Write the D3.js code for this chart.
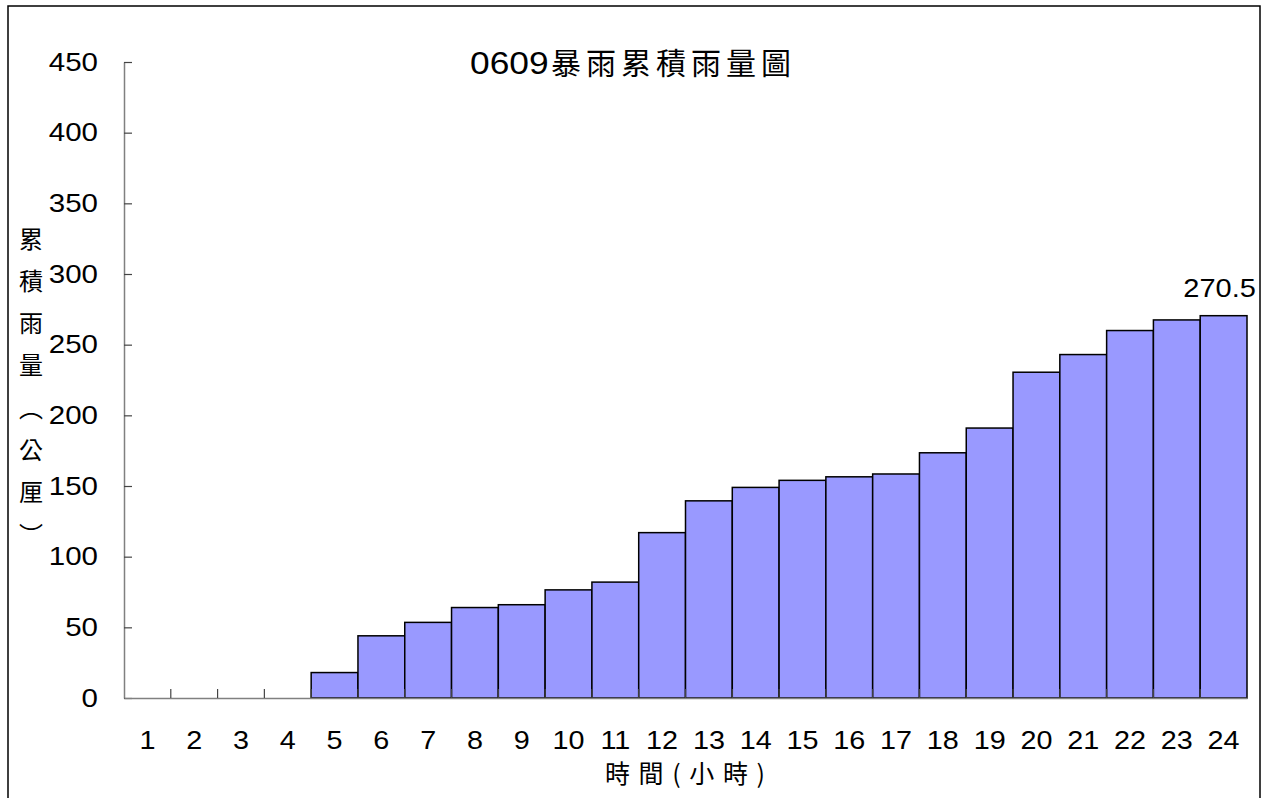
<!DOCTYPE html>
<html><head><meta charset="utf-8">
<script src="https://cdn.jsdelivr.net/npm/d3@7"></script>
<style>
body{margin:0;background:#fff;}
svg{display:block;}
</style></head>
<body>
<svg id="chart" width="1263" height="798"></svg>
<script>
const categories = ["1","2","3","4","5","6","7","8","9","10","11","12","13","14","15","16","17","18","19","20","21","22","23","24"];
const values = [0,0,0,0,18,44,53.5,64,66,76.5,82,117,139.5,149,154,156.5,158.5,173.5,191,230.5,243,260,267.5,270.5];
const yTicks = [0,50,100,150,200,250,300,350,400,450];
const titleNum = "0609";
const titleText = "暴雨累積雨量圖";
const yLabelChars = ["累","積","雨","量","︵","公","厘","︶"];
const xLabel = "時間(小時)";
const lastLabel = "270.5";

(function(){
const svg = d3.select("#chart");
const latin = "Arial, 'Liberation Sans', sans-serif";
const cjk = "'Noto Sans CJK TC', 'Noto Sans CJK SC', sans-serif";
function stretch(sel, f){
  sel.each(function(){
    const w = this.getComputedTextLength();
    d3.select(this).attr("textLength", w*f).attr("lengthAdjust","spacingAndGlyphs");
  });
}

// frame
svg.append("rect").attr("x",8).attr("y",6).attr("width",1252).attr("height",820)
  .attr("fill","none").attr("stroke","#000").attr("stroke-width",1.5);

const mLeft = 124, mRight = 1247, mTop = 62, mBottom = 698;
const x = d3.scaleBand().domain(categories).range([mLeft,mRight]).padding(0);
const y = d3.scaleLinear().domain([0,450]).range([mBottom,mTop]);

// bars
svg.append("g").selectAll("rect").data(values.map((v,i)=>({c:categories[i],v})).filter(d=>d.v>0))
  .join("rect")
  .attr("x",d=>x(d.c)).attr("y",d=>y(d.v))
  .attr("width",x.bandwidth()).attr("height",d=>y(0)-y(d.v))
  .attr("fill","#9999ff").attr("stroke","#000").attr("stroke-width",1.5);

// y axis
const yAxis = svg.append("g").attr("transform",`translate(${mLeft},0)`)
  .call(d3.axisLeft(y).tickValues(yTicks).tickSize(-8).tickPadding(26).tickSizeOuter(0));
yAxis.select(".domain").attr("stroke","#808080").attr("stroke-width",1.5);
yAxis.selectAll(".tick line").attr("stroke","#444").attr("stroke-width",1.2);
yAxis.selectAll("text").attr("font-family",latin).attr("font-size",25).attr("fill","#000").call(stretch,1.18);

// x axis
const xAxis = svg.append("g").attr("transform",`translate(0,${mBottom})`)
  .call(d3.axisBottom(x).tickSize(0).tickPadding(33).tickSizeOuter(0));
xAxis.select(".domain").attr("stroke","#808080").attr("stroke-width",1.5);
xAxis.selectAll("text").attr("font-family",latin).attr("font-size",25).attr("fill","#000").call(stretch,1.15);
// boundary ticks
svg.append("g").selectAll("line").data(categories.slice(1))
  .join("line")
  .attr("x1",d=>x(d)).attr("x2",d=>x(d))
  .attr("y1",mBottom).attr("y2",mBottom-9)
  .attr("stroke","#444").attr("stroke-width",1.2);

// value label on last bar
svg.append("text").attr("x",x(categories[23])+x.bandwidth()/2-4).attr("y",y(values[23])-19)
  .attr("text-anchor","middle").attr("font-family",latin).attr("font-size",25)
  .text(lastLabel).call(stretch,1.16);

// title
const t1 = svg.append("text").attr("x",470).attr("y",74)
  .attr("font-family",latin).attr("font-size",31).text(titleNum).call(stretch,1.14);
const t2 = svg.append("text").attr("x",551).attr("y",74)
  .attr("font-family",cjk).attr("font-size",30).attr("letter-spacing",5).text(titleText);

// y label vertical
svg.append("g").selectAll("text").data(yLabelChars).join("text")
  .attr("x",31).attr("y",(d,i)=>237+i*42.3)
  .attr("text-anchor","middle").attr("dominant-baseline","central")
  .attr("font-family",cjk).attr("font-size",24).text(d=>d);

// x label
svg.append("text").attr("x",605).attr("y",783)
  .attr("font-family",cjk).attr("font-size",25)
  .attr("textLength",160).attr("lengthAdjust","spacing").text(xLabel);
})();
</script>
</body></html>
